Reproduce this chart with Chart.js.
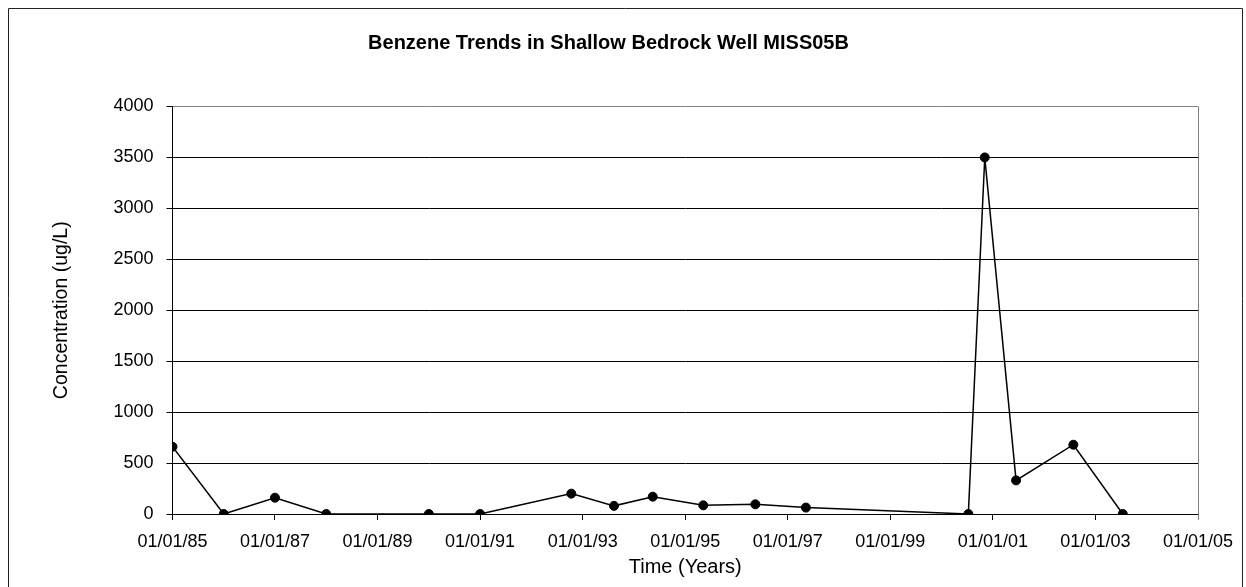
<!DOCTYPE html>
<html>
<head>
<meta charset="utf-8">
<script src="https://cdn.jsdelivr.net/npm/chart.js@4/dist/chart.umd.min.js"></script>
<style>
  html, body { margin: 0; padding: 0; background: #fff; }
  #wrap { width: 1246px; height: 587px; }
</style>
</head>
<body>
<div id="wrap"><canvas id="benzeneChart"></canvas></div>
<script>
// sample dates and benzene concentrations (ug/L)
const sampleDates = [
    '1985-01-01', '1986-01-01', '1987-01-01', '1988-01-01', '1990-01-01',
    '1991-01-01', '1992-10-12', '1993-08-12', '1994-05-15', '1995-05-10',
    '1996-05-15', '1997-05-10', '2000-07-10', '2000-11-04', '2001-06-15',
    '2002-07-28', '2003-07-15'
];
const benzene = [660, 0, 160, 0, 0, 0, 200, 80, 170, 85, 95, 63, 0, 3500, 330, 680, 0];
const tickYears = [1985, 1987, 1989, 1991, 1993, 1995, 1997, 1999, 2001, 2003, 2005];
const yTicks = [0, 500, 1000, 1500, 2000, 2500, 3000, 3500, 4000];

const points = sampleDates.map((d, i) => ({ x: Date.parse(d + 'T00:00:00Z'), y: benzene[i] }));

function fmtDate(ms) {
    const d = new Date(ms);
    const yy = String(d.getUTCFullYear() % 100).padStart(2, '0');
    const mm = String(d.getUTCMonth() + 1).padStart(2, '0');
    const dd = String(d.getUTCDate()).padStart(2, '0');
    return mm + '/' + dd + '/' + yy;
}

// outer frame and the grey right edge of the plot
const framePlugin = {
    id: 'frame',
    afterDraw(chart) {
        const ctx = chart.ctx;
        const a = chart.chartArea;
        ctx.save();
        ctx.lineWidth = 1;
        ctx.strokeStyle = '#808080';
        ctx.beginPath();
        ctx.moveTo(Math.round(a.right) + 0.5, a.top);
        ctx.lineTo(Math.round(a.right) + 0.5, a.bottom + 6);
        ctx.stroke();
        ctx.strokeStyle = '#222';
        ctx.beginPath();
        ctx.moveTo(8.5, 600);
        ctx.lineTo(8.5, 8.5);
        ctx.lineTo(1242.5, 8.5);
        ctx.lineTo(1242.5, 600);
        ctx.stroke();
        ctx.restore();
    }
};

Chart.defaults.font.family = 'Arial, "Liberation Sans", sans-serif';
Chart.defaults.color = '#000';

const ctx = document.getElementById('benzeneChart').getContext('2d');
const chart = new Chart(ctx, {
    type: 'scatter',
    data: {
        datasets: [{
            label: 'Benzene',
            data: points,
            showLine: true,
            borderColor: '#000',
            backgroundColor: '#000',
            borderWidth: 1.5,
            pointRadius: 4.5,
            pointBorderWidth: 1,
            pointBackgroundColor: '#000',
            pointBorderColor: '#000'
        }]
    },
    options: {
        responsive: true,
        maintainAspectRatio: false,
        animation: false,
        layout: { padding: { left: 19, right: 48, top: 0, bottom: 0 } },
        plugins: {
            legend: { display: false },
            tooltip: { enabled: false },
            title: {
                display: true,
                text: 'Benzene Trends in Shallow Bedrock Well MISS05B',
                font: { size: 20, weight: 'bold' },
                color: '#000',
                padding: { top: 31, bottom: 51.5 }
            }
        },
        scales: {
            x: {
                type: 'linear',
                min: Date.UTC(1985, 0, 1),
                max: Date.UTC(2005, 0, 1),
                afterBuildTicks: scale => {
                    scale.ticks = tickYears.map(y => ({ value: Date.UTC(y, 0, 1) }));
                },
                afterFit: scale => { scale.height = 73; },
                ticks: {
                    callback: v => fmtDate(v),
                    font: { size: 18 },
                    padding: 11,
                    maxRotation: 0,
                    autoSkip: false
                },
                grid: {
                    drawOnChartArea: false,
                    drawTicks: true,
                    tickLength: 6,
                    color: '#000'
                },
                border: { color: '#000', width: 1 },
                title: {
                    display: true,
                    text: 'Time (Years)',
                    font: { size: 20 },
                    padding: { top: 0, bottom: 8 }
                }
            },
            y: {
                min: 0,
                max: 4000,
                afterBuildTicks: scale => {
                    scale.ticks = yTicks.map(v => ({ value: v }));
                },
                afterFit: scale => { scale.width = 153.5; },
                ticks: {
                    callback: v => String(v),
                    font: { size: 18 },
                    padding: 13
                },
                grid: {
                    color: c => (c.tick && c.tick.value === 4000) ? '#808080' : '#000',
                    tickColor: '#000',
                    tickLength: 6
                },
                border: { color: '#000', width: 1 },
                title: {
                    display: true,
                    text: 'Concentration (ug/L)',
                    font: { size: 19.5 },
                    padding: { top: 31, bottom: 0 }
                }
            }
        }
    },
    plugins: [framePlugin]
});
</script>
</body>
</html>
